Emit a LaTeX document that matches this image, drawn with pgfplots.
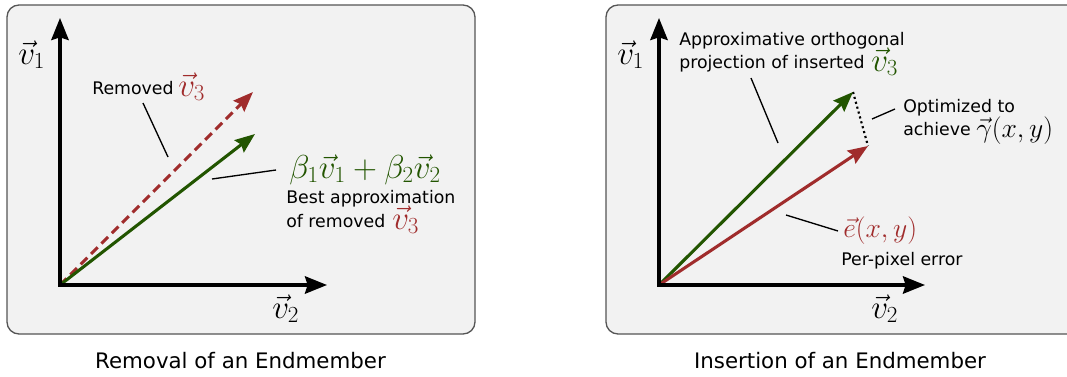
\documentclass[border=0pt]{standalone}
\usepackage{pgfplots}
\pgfplotsset{compat=1.18}
\usepackage{fontspec}
\setmainfont{DejaVu Sans}
\usetikzlibrary{arrows.meta}
\definecolor{vred}{HTML}{A02C2C}
\definecolor{vgreen}{HTML}{225500}
\definecolor{boxfill}{HTML}{F2F2F2}
\definecolor{boxline}{HTML}{555555}
\newcommand{\mfont}{\fontsize{25}{29}\selectfont}
\newcommand{\sfont}{\fontsize{21}{25}\selectfont}
\newcommand{\tfont}{\fontsize{13}{18}\selectfont}
\tikzset{
  axisarr/.style={line width=2.5pt, black, {Stealth[length=16.5pt,width=13pt,inset=2pt]}-{Stealth[length=16.5pt,width=13pt,inset=2pt]}, line join=miter},
  vecarr/.style={line width=2.3pt, -{Stealth[length=15pt,width=11.5pt,inset=2pt]}},
  leader/.style={line width=1pt, black},
  txt/.style={anchor=base west, inner sep=0pt, font=\tfont},
}
\begin{document}
\begin{tikzpicture}
\begin{axis}[
  width=800.25pt, height=282pt, scale only axis,
  xmin=0, xmax=1067, ymin=0, ymax=376, y dir=reverse,
  hide axis, clip=true,
]
\coordinate (BL) at (axis cs:0,376);
\coordinate (TR) at (axis cs:1067,0);
% panels
\draw[fill=boxfill, draw=boxline, line width=1pt, rounded corners=9pt]
  (axis cs:7,5) rectangle (axis cs:475,334);
\draw[fill=boxfill, draw=boxline, line width=1pt, rounded corners=9pt]
  (axis cs:606,5) rectangle (axis cs:1090,334);

% ---- left panel ----
\addplot[vecarr, vred, dash pattern=on 7pt off 4pt] coordinates {(60,285) (253,92)};
\addplot[vecarr, vgreen] coordinates {(60,285) (255,134)};
\addplot[axisarr] coordinates {(60,18) (60,285) (327,285)};
\addplot[leader] coordinates {(143,103) (168,157)};
\addplot[leader] coordinates {(212,179) (276,170)};

\node[txt] at (axis cs:18,64) {\mfont$\vec{v}_1$};
\node[txt] at (axis cs:272,318) {\mfont$\vec{v}_2$};
\node[txt] at (axis cs:92,94) {Removed};
\node[txt] at (axis cs:178,96) {\mfont\color{vred}$\vec{v}_3$};
\node[txt] at (axis cs:289,178) {\mfont\color{vgreen}$\beta_1\vec{v}_1+\beta_2\vec{v}_2$};
\node[txt] at (axis cs:286,203) {Best approximation};
\node[txt] at (axis cs:286,227) {of removed};
\node[txt] at (axis cs:392,229) {\mfont\color{vred}$\vec{v}_3$};
\node[anchor=base, inner sep=0pt, font=\fontsize{16}{19}\selectfont] at (axis cs:240.5,368) {Removal of an Endmember};

% ---- right panel ----
\addplot[line width=1.6pt, black, dash pattern=on 1.6pt off 2.2pt] coordinates {(853,92) (868,146)};
\addplot[vecarr, vgreen] coordinates {(659,285) (853,92)};
\addplot[vecarr, vred] coordinates {(659,285) (868,146)};
\addplot[axisarr] coordinates {(659,18) (659,285) (925,285)};
\addplot[leader] coordinates {(751,78) (778,143)};
\addplot[leader] coordinates {(872,119) (895,109)};
\addplot[leader] coordinates {(786,215) (838,231)};

\node[txt] at (axis cs:617,64) {\mfont$\vec{v}_1$};
\node[txt] at (axis cs:871,318) {\mfont$\vec{v}_2$};
\node[txt] at (axis cs:679,45) {Approximative orthogonal};
\node[txt] at (axis cs:679,68) {projection of inserted};
\node[txt] at (axis cs:871,71) {\mfont\color{vgreen}$\vec{v}_3$};
\node[txt] at (axis cs:903,112) {Optimized to};
\node[txt] at (axis cs:903,135) {achieve};
\node[txt] at (axis cs:976,137) {\sfont$\vec{\gamma}(x,y)$};
\node[txt] at (axis cs:843,237) {\sfont\color{vred}$\vec{e}(x,y)$};
\node[txt] at (axis cs:841,265) {Per-pixel error};
\node[anchor=base, inner sep=0pt, font=\fontsize{16}{19}\selectfont] at (axis cs:840,368) {Insertion of an Endmember};
\end{axis}
\pgfresetboundingbox
\path (BL) rectangle (TR);
\end{tikzpicture}
\end{document}
